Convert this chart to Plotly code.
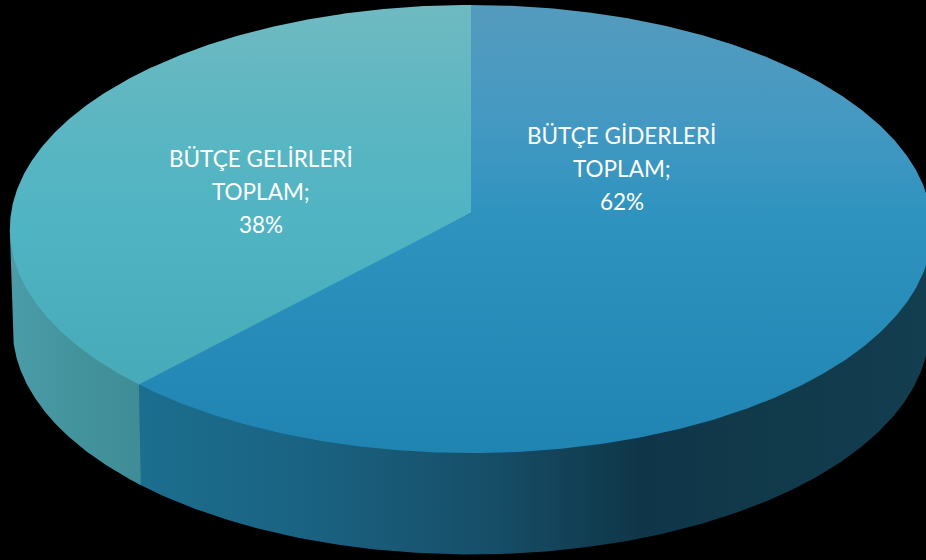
import numpy as np
import plotly.graph_objects as go

categories = ["BÜTÇE GİDERLERİ", "BÜTÇE GELİRLERİ"]
series_name = "TOPLAM"
values = [62, 38]

WIDTH, HEIGHT = 926, 560
CX, CY = 471.0, 213.0
RX, RY = 460.0, 222.9
PERSP = 0.0714
DEPTH = 99.0
BOTTOM_SCALE = 0.994
OVERLAP = 0.012


def top_point(t):
    u, v = np.sin(t), -np.cos(t)
    d = 1 - PERSP * v
    return CX + RX * u / d, CY + RY * v / d


def bottom_point(t):
    x, y = top_point(t)
    return CX + (x - CX) * BOTTOM_SCALE, y + DEPTH + (y - CY) * 0.01


total = sum(values)
edges = np.concatenate([[0.0], np.cumsum(values) / total * 2 * np.pi])
side_start = np.arccos(-PERSP)
side_end = 2 * np.pi - side_start

top_styles = [
    [[0, "#549bbe"], [0.25, "#4599c2"], [0.48, "#2e93bf"], [1, "#1f84b1"]],
    [[0, "#6fbac1"], [0.25, "#5cb6c2"], [0.48, "#50b4c3"], [1, "#44a6b5"]],
]
side_styles = [
    [[0, "#1c6f8f"], [0.22, "#1a6282"], [0.45, "#164e68"], [0.64, "#0f3648"], [0.82, "#113a4b"], [1, "#133e4f"]],
    [[0, "#4a9ca8"], [0.5, "#43939d"], [1, "#3e8c95"]],
]
# The first slice is drawn a hair wider so the later one covers the seam.
side_ranges = [
    (side_start, edges[1] + OVERLAP),
    (edges[1], side_end),
]

fig = go.Figure()

for i, (a, b) in enumerate(side_ranges):
    t = np.linspace(a, b, 240)
    xt, yt = top_point(t)
    xi, yi = CX + (xt - CX) * 0.97, CY + (yt - CY) * 0.97
    xb, yb = bottom_point(t[::-1])
    x = np.concatenate([xt[:1], xi, xt[-1:], xb])
    y = np.concatenate([yt[:1], yi, yt[-1:], yb])
    fig.add_trace(go.Scatter(
        x=x, y=y, mode="lines", fill="toself", line=dict(width=0),
        fillgradient=dict(type="horizontal", colorscale=side_styles[i],
                          start=float(x.min()), stop=min(float(x.max()), WIDTH)),
        hoverinfo="skip", showlegend=False,
    ))

for i in range(len(values)):
    pad = OVERLAP if i == 0 else 0.0
    t = np.linspace(edges[i] - pad, edges[i + 1] + pad, 480)
    xt, yt = top_point(t)
    x = np.concatenate([[CX], xt, [CX]])
    y = np.concatenate([[CY], yt, [CY]])
    fig.add_trace(go.Scatter(
        x=x, y=y, mode="lines", fill="toself", line=dict(width=0),
        fillgradient=dict(type="vertical", colorscale=top_styles[i], start=5, stop=453),
        hoverinfo="skip", showlegend=False,
    ))

label_pos = [(621.5, 135), (261, 158)]
LINE_STEP = 33
for i, cat in enumerate(categories):
    lines = [cat, f"{series_name};", f"{values[i]}%"]
    for j, line in enumerate(lines):
        fig.add_annotation(
            x=label_pos[i][0], y=label_pos[i][1] + j * LINE_STEP, xref="x", yref="y",
            showarrow=False, text=line,
            font=dict(family="Lato, Carlito, Calibri, sans-serif", size=22.5, color="#ffffff"),
        )

fig.update_layout(
    width=WIDTH, height=HEIGHT, margin=dict(l=0, r=0, t=0, b=0),
    paper_bgcolor="#000000", plot_bgcolor="#000000",
    xaxis=dict(range=[0, WIDTH], visible=False, fixedrange=True),
    yaxis=dict(range=[HEIGHT, 0], visible=False, fixedrange=True),
)
fig.write_html(
    "out.html",
    config=dict(displayModeBar=False),
    post_script="document.body.style.margin='0';document.body.style.background='#000';",
)
